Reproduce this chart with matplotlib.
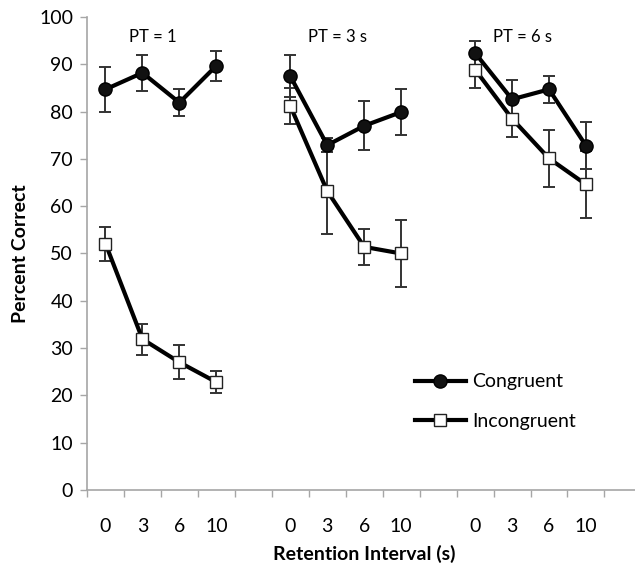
import matplotlib.pyplot as plt
import numpy as np

# conditions (presentation time) and retention intervals
conditions = ["PT = 1", "PT = 3 s", "PT = 6 s"]
intervals = ["0", "3", "6", "10"]

congruent = [
    [84.7, 88.2, 81.9, 89.7],
    [87.5, 72.9, 77.0, 79.9],
    [92.4, 82.6, 84.7, 72.8],
]
congruent_err = [
    [4.8, 3.8, 2.8, 3.2],
    [4.4, 1.5, 5.2, 4.9],
    [2.5, 4.0, 2.8, 5.0],
]
incongruent = [
    [52.1, 31.9, 27.0, 22.8],
    [81.2, 63.2, 51.4, 50.0],
    [88.9, 78.5, 70.1, 64.6],
]
incongruent_err = [
    [3.6, 3.3, 3.6, 2.3],
    [3.8, 9.0, 3.8, 7.0],
    [3.9, 3.8, 6.0, 7.1],
]

plt.rcParams["font.family"] = ["Lato", "DejaVu Sans"]

fig = plt.figure(figsize=(6.35, 5.64), dpi=100)
# axis box from pixel positions (left 87, bottom 490, top 17)
ax = fig.add_axes([87 / 635, (564 - 490) / 564, 14 * 39.6 / 635, (490 - 17) / 564])

gray = "#a6a6a6"
fs = 14
n = len(intervals)
for k in range(len(conditions)):
    x = np.arange(n) + k * (n + 1)
    ax.errorbar(x, congruent[k], yerr=congruent_err[k], fmt="none",
                ecolor="#333333", elinewidth=1.4, capsize=4, capthick=1.4, zorder=2)
    ax.errorbar(x, incongruent[k], yerr=incongruent_err[k], fmt="none",
                ecolor="#333333", elinewidth=1.4, capsize=4, capthick=1.4, zorder=2)
    lc, = ax.plot(x, congruent[k], color="black", lw=3, marker="o", ms=9.5,
                  mfc="#111111", mec="black", zorder=4)
    li, = ax.plot(x, incongruent[k], color="black", lw=3, marker="s", ms=9,
                  mfc="white", mec="#222222", mew=1.0, zorder=3)
    ax.text(x.mean() - 0.22, 95.8, conditions[k], ha="center", va="center", fontsize=12)

lc.set_label("Congruent")
li.set_label("Incongruent")
ax.legend(handles=[lc, li], loc="center left", bbox_to_anchor=(0.56, 0.187),
          frameon=False, fontsize=fs, handlelength=2.6, handletextpad=0.35,
          labelspacing=1.15)

ax.set_ylim(0, 100)
ax.set_xlim(-0.5, 3 * (n + 1) - 1.5)
ax.set_yticks(np.arange(0, 101, 10))

pos = [k * (n + 1) + i for k in range(len(conditions)) for i in range(n)]
ax.set_xticks(pos)
ax.set_xticklabels(intervals * len(conditions))
ax.set_xticks(np.arange(-0.5, 3 * (n + 1), 1), minor=True)
ax.tick_params(axis="x", which="major", length=0, pad=20, labelsize=fs)
ax.tick_params(axis="x", which="minor", length=5, color=gray, width=1)
ax.tick_params(axis="y", length=5, color=gray, width=1, labelsize=fs, pad=5)

for s in ["top", "right"]:
    ax.spines[s].set_visible(False)
for s in ["left", "bottom"]:
    ax.spines[s].set_color(gray)
    ax.spines[s].set_linewidth(1.2)

ax.set_xlabel("Retention Interval (s)", fontsize=fs, fontweight="bold", labelpad=7)
ax.set_ylabel("Percent Correct", fontsize=fs, fontweight="bold", labelpad=7)

fig.savefig("out.png", dpi=100)
